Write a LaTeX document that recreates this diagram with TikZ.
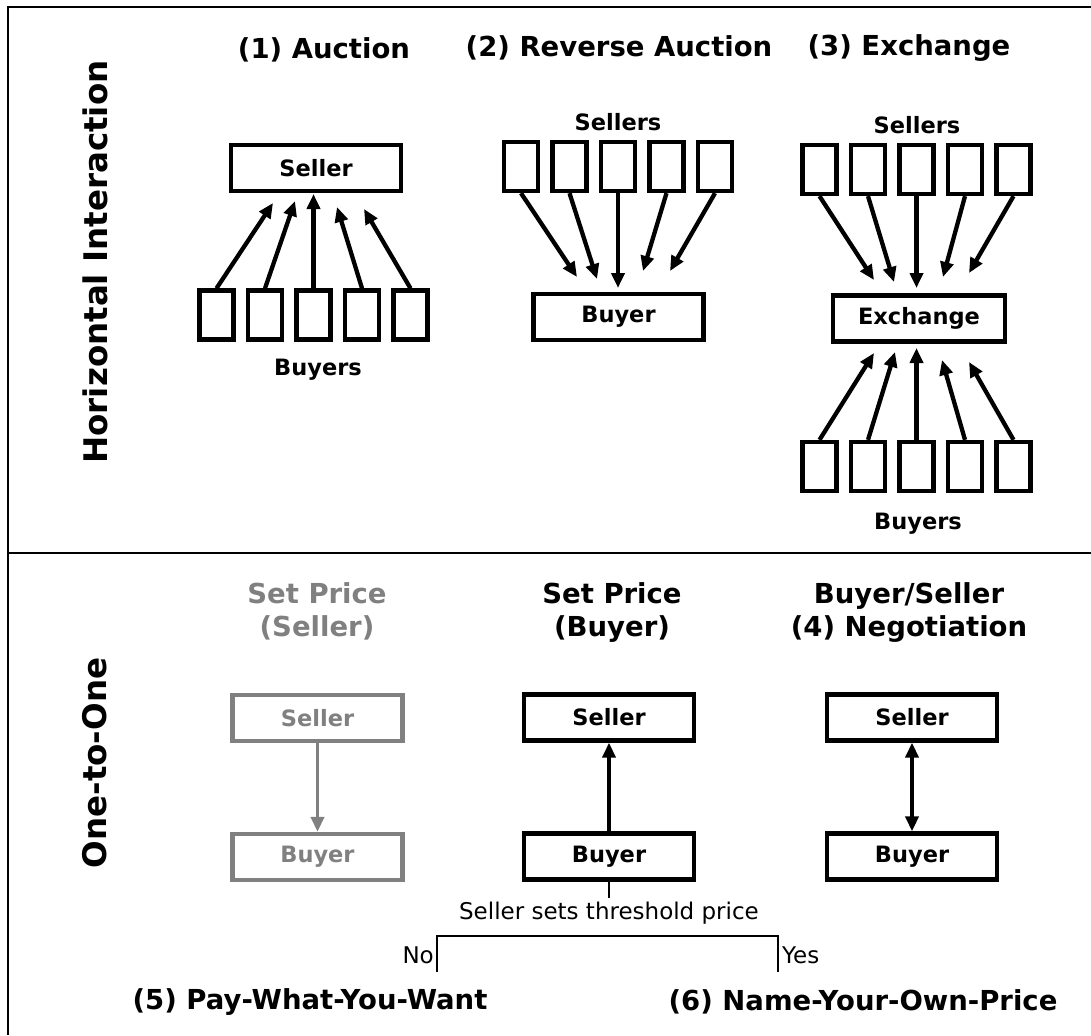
\documentclass[tikz,border=0pt]{standalone}
\usepackage{fontspec}
\setmainfont{DejaVu Sans}
\usetikzlibrary{arrows.meta}
\definecolor{midgrey}{gray}{0.5}
\begin{document}
\begin{tikzpicture}[x=1pt,y=-1pt,
  box/.style={draw, line width=4.3pt, minimum width=170pt, minimum height=46pt, inner sep=0pt, font=\fontsize{22.5}{26}\selectfont\bfseries},
  sbox/.style={draw, line width=4.3pt, minimum width=34pt, minimum height=49pt, inner sep=0pt},
  arr/.style={line width=4.3pt, -{Triangle[length=15pt,width=13pt]}},
  darr/.style={line width=4.3pt, {Triangle[length=15pt,width=13pt]}-{Triangle[length=15pt,width=13pt]}},
  ttl/.style={font=\fontsize{27.5}{33}\selectfont\bfseries, align=center},
  side/.style={font=\fontsize{32.5}{37}\selectfont\bfseries, rotate=90},
  lbl/.style={font=\fontsize{22.5}{26}\selectfont\bfseries},
  thinl/.style={line width=1.6pt},
  small/.style={font=\fontsize{23}{27}\selectfont},
  frameline/.style={line width=2.5pt},
]
\useasboundingbox (0,0) rectangle (1091,1035);
% frame
\coordinate (ftr) at (1091,7);
\coordinate (ftl) at (8,7);
\coordinate (fbl) at (8,1035);
\coordinate (dl) at (8,553);
\coordinate (dr) at (1091,553);
\draw[frameline] (ftr) -- (ftl) -- (fbl);
\draw[frameline] (dl) -- (dr);

% side labels
\node[side] (hi) at (95,262) {Horizontal Interaction};
\node[side] (oo) at (95,763) {One-to-One};

% titles
\node[ttl] (t1) at (324,50) {(1) Auction};
\node[ttl] (t2) at (619,48) {(2) Reverse Auction};
\node[ttl] (t3) at (909,48) {(3) Exchange};

% (1) Auction
\node[box] (as) at (316,168) {Seller};
\foreach \i in {1,...,5} \node[sbox] (ab\i) at ({313.5+(\i-3)*48.5},315) {};
\node[lbl] (abl) at (318,370) {Buyers};
\coordinate (at1) at (273,203);
\coordinate (at2) at (295,201);
\coordinate (at3) at (313.5,194);
\coordinate (at4) at (337,207);
\coordinate (at5) at (364,209);
\foreach \i in {1,...,5} \draw[arr] (ab\i.north) -- (at\i);

% (2) Reverse auction
\node[lbl] (rsl) at (618,122) {Sellers};
\foreach \i in {1,...,5} \node[sbox] (rs\i) at ({618+(\i-3)*48.5},166.5) {};
\node[box] (rb) at (618.5,317) {Buyer};
\coordinate (rt1) at (577,277);
\coordinate (rt2) at (597,279);
\coordinate (rt3) at (618,288);
\coordinate (rt4) at (643,271);
\coordinate (rt5) at (670,271);
\foreach \i in {1,...,5} \draw[arr] (rs\i.south) -- (rt\i);

% (3) Exchange
\node[lbl] (esl) at (917,125) {Sellers};
\foreach \i in {1,...,5} \node[sbox] (es\i) at ({916.5+(\i-3)*48.5},169.5) {};
\node[box, minimum width=172pt] (ex) at (919,318.5) {Exchange};
\foreach \i in {1,...,5} \node[sbox] (eb\i) at ({916.5+(\i-3)*48.5},466.5) {};
\node[lbl] (ebl) at (918,524) {Buyers};
\coordinate (et1) at (874,280);
\coordinate (et2) at (894,282);
\coordinate (et3) at (916.5,288);
\coordinate (et4) at (943,277);
\coordinate (et5) at (969,273);
\coordinate (eu1) at (874,353);
\coordinate (eu2) at (895,352);
\coordinate (eu3) at (916.5,348);
\coordinate (eu4) at (942,360);
\coordinate (eu5) at (969,362);
\foreach \i in {1,...,5} {
  \draw[arr] (es\i.south) -- (et\i);
  \draw[arr] (eb\i.north) -- (eu\i);
}

% One-to-one: set price (seller), grey
\node[ttl, text=midgrey] (g0) at (317,611) {Set Price\\(Seller)};
\node[box, draw=midgrey, text=midgrey] (gs) at (317.5,718) {Seller};
\node[box, draw=midgrey, text=midgrey] (gb) at (317.5,857) {Buyer};
\draw[arr, midgrey, line width=3.6pt] (gs) -- (gb);

% set price (buyer)
\node[ttl] (b0) at (612,613) {Set Price\\(Buyer)};
\node[box] (bs) at (609,717.5) {Seller};
\node[box] (bb) at (609,856.5) {Buyer};
\draw[arr] (bb) -- (bs);

% negotiation
\node[ttl] (n0) at (909,613) {Buyer/Seller\\(4) Negotiation};
\node[box] (ns) at (912,717.5) {Seller};
\node[box] (nb) at (912,856.5) {Buyer};
\draw[darr] (ns) -- (nb);

% threshold branch
\node[small] (thr) at (609,913) {Seller sets threshold price};
\draw[thinl] (bb.south) -- (thr.north);
\coordinate (nl) at (437,972);
\coordinate (nr) at (778,972);
\draw[thinl] (nl) -- ++(0,-36) -| (nr);
\node[small, anchor=east, inner sep=1pt] (no) at (435,955) {No};
\node[small, anchor=west, inner sep=1pt] (yes) at (781,955) {Yes};

\node[ttl] (t5) at (310,1002) {(5) Pay-What-You-Want};
\node[ttl] (t6) at (863,1002) {(6) Name-Your-Own-Price};
\end{tikzpicture}
\end{document}
